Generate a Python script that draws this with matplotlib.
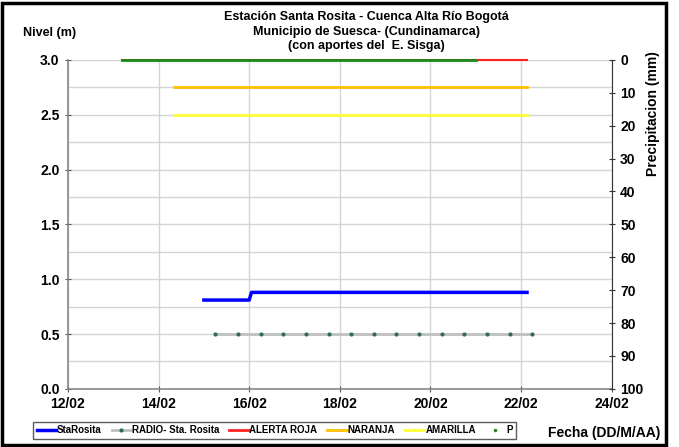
import numpy as np
import matplotlib
matplotlib.use('Agg')
from matplotlib import pyplot as plt
from matplotlib.lines import Line2D
from matplotlib.ticker import MultipleLocator, FuncFormatter

plt.rcParams['font.family'] = ['Liberation Sans', 'DejaVu Sans']
plt.rcParams['font.weight'] = 'bold'

# days of February (12 = 12/02)
sta_x = [15.0, 16.0, 16.05, 22.13]
sta_y = [0.81, 0.81, 0.88, 0.88]

radio_x = [15.25 + 0.5 * i for i in range(15)]
radio_y = [0.5] * 15

roja_x = [13.2, 22.13]
roja_y = [3.0, 3.0]
naranja_x = [14.35, 22.13]
naranja_y = [2.75, 2.75]
amarilla_x = [14.35, 22.13]
amarilla_y = [2.5, 2.5]

p_x = [13.2, 21.0]
p_y = [0.0, 0.0]

day_ticks = [12, 14, 16, 18, 20, 22, 24]

fig = plt.figure(figsize=(6.79, 4.47), dpi=100)
ax = fig.add_axes([0.100, 0.130, 0.801, 0.736])
ax2 = ax.twinx()

ax.set_xlim(12, 24)
ax.set_ylim(0, 3.0)
ax.set_xticks(day_ticks)
ax.xaxis.set_major_formatter(FuncFormatter(lambda v, p: f'{int(v):02d}/02'))
ax.yaxis.set_major_locator(MultipleLocator(0.5))
ax.yaxis.set_minor_locator(MultipleLocator(0.25))
ax.yaxis.set_major_formatter(FuncFormatter(lambda v, p: f'{v:.1f}'))
ax.grid(True, which='major', axis='x', color='#d4d4d4', lw=1)
ax.grid(True, which='both', axis='y', color='#d4d4d4', lw=1)
ax.tick_params(axis='y', which='minor', length=0)
ax.tick_params(axis='both', which='major', direction='inout', length=5, labelsize=10, color='#555555')
ax.set_axisbelow(True)
for s in ['top', 'right']:
    ax.spines[s].set_visible(False)
for s in ['left', 'bottom']:
    ax.spines[s].set_color('#888888')
    ax.spines[s].set_linewidth(1.2)

ax2.set_ylim(100, 0)
ax2.yaxis.set_major_locator(MultipleLocator(10))
ax2.tick_params(axis='y', direction='inout', length=5, labelsize=10, color='#333333')
for s in ['top', 'left', 'bottom']:
    ax2.spines[s].set_visible(False)
ax2.spines['right'].set_color('#333333')
fig.text(0.962, 0.745, 'Precipitacion (mm)', rotation=90, ha='center', va='center', fontsize=10)

ax.plot(roja_x, roja_y, color='#ff2020', lw=1.5, clip_on=False, zorder=3)
ax.plot(naranja_x, naranja_y, color='#ffc000', lw=2, zorder=3)
ax.plot(amarilla_x, amarilla_y, color='#ffff33', lw=2, zorder=3)
ax2.plot(p_x, p_y, color='#1a8a1a', lw=2, clip_on=False, zorder=4)
ax.plot(radio_x, radio_y, color='#c0c0c0', lw=2, marker='.', ms=4,
        mfc='#2e6e4e', mec='#2e6e4e', zorder=3)
ax.plot(sta_x, sta_y, color='#0000ff', lw=2.5, zorder=4)

fig.text(0.54, 0.962, 'Estación Santa Rosita - Cuenca Alta Río Bogotá', ha='center', va='center', fontsize=9)
fig.text(0.54, 0.929, 'Municipio de Suesca- (Cundinamarca)', ha='center', va='center', fontsize=9)
fig.text(0.54, 0.896, '(con aportes del  E. Sisga)', ha='center', va='center', fontsize=9)
fig.text(0.034, 0.926, 'Nivel (m)', ha='left', va='center', fontsize=9)
fig.text(0.972, 0.031, 'Fecha (DD/M/AA)', ha='right', va='center', fontsize=10)

handles = [
    Line2D([], [], color='#0000ff', lw=2.5),
    Line2D([], [], color='#c0c0c0', lw=2, marker='.', ms=4, mfc='#2e6e4e', mec='#2e6e4e'),
    Line2D([], [], color='#ff2020', lw=2),
    Line2D([], [], color='#ffc000', lw=2),
    Line2D([], [], color='#ffff33', lw=2),
    Line2D([], [], color='#1a8a1a', lw=0, marker='.', ms=3),
]
labels = ['StaRosita', 'RADIO- Sta. Rosita', 'ALERTA ROJA', 'NARANJA', 'AMARILLA', 'P']
leg = fig.legend(handles, labels, loc='center left', bbox_to_anchor=(0.049, 0.037),
                 ncol=6, fontsize=7, frameon=True, fancybox=False, edgecolor='#333333',
                 handlelength=2.0, handletextpad=0.1, columnspacing=1.0,
                 borderpad=0.35, borderaxespad=0)

fig.add_artist(plt.Rectangle((0.003, 0.004), 0.978, 0.99, transform=fig.transFigure,
                             fill=False, ec='black', lw=2.5))

plt.savefig('out.png', dpi=100)
